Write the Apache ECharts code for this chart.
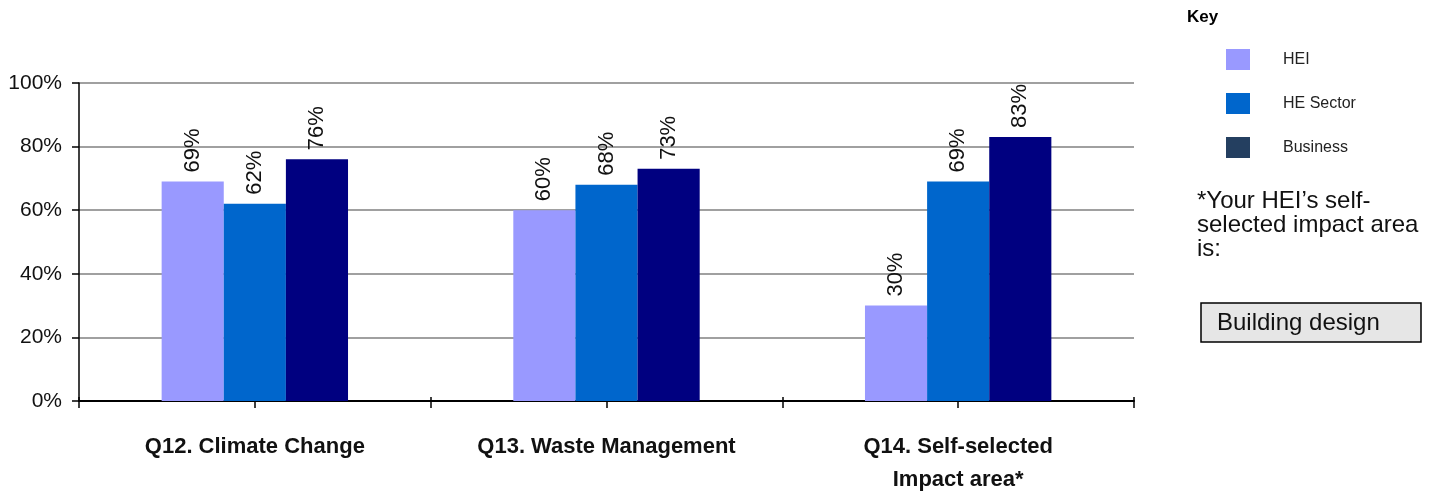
<!DOCTYPE html>
<html>
<head>
<meta charset="utf-8">
<script src="https://cdn.jsdelivr.net/npm/echarts@6/dist/echarts.min.js"></script>
<style>
html,body{margin:0;padding:0;background:#fff;}
#chart{width:1437px;height:496px;}
</style>
</head>
<body>
<div id="chart"></div>
<script>
const categories = ['Q12. Climate Change', 'Q13. Waste Management', 'Q14. Self-selected\nImpact area*'];
const seriesNames = ['HEI', 'HE Sector', 'Business'];
const heiValues = [69, 60, 30];
const sectorValues = [62, 68, 69];
const businessValues = [76, 73, 83];
const yTicks = [0, 20, 40, 60, 80, 100];
const halfTicks = ['', '', '', '', '', ''];
const noteLines = ['*Your HEI\u2019s self-', 'selected impact area', 'is:'];
const impactArea = 'Building design';

const FONT = 'Liberation Sans, Arial, sans-serif';
const colors = ['#9999FF', '#0066CC', '#000080'];
const legendColors = ['#9999FF', '#0066CC', '#243F60'];

const chart = echarts.init(document.getElementById('chart'));

const labelCfg = {
  show: true,
  position: 'top',
  distance: 9,
  rotate: 90,
  align: 'left',
  verticalAlign: 'middle',
  formatter: '{c}%',
  fontFamily: FONT,
  fontSize: 22,
  color: '#111'
};

const valuesList = [heiValues, sectorValues, businessValues];

chart.setOption({
  animation: false,
  backgroundColor: '#fff',
  textStyle: { fontFamily: FONT },
  grid: { left: 79, right: 303, top: 83, bottom: 90, containLabel: false },
  legend: {
    orient: 'vertical',
    left: 1226,
    top: 49,
    padding: 0,
    itemWidth: 24,
    itemHeight: 21,
    itemGap: 23,
    icon: 'rect',
    selectedMode: false,
    textStyle: { fontFamily: FONT, fontSize: 16, color: '#222', padding: [0, 0, 9, 28] },
    data: seriesNames.map((n, i) => ({ name: n, itemStyle: { color: legendColors[i] } }))
  },
  xAxis: [
    {
      type: 'category',
      data: categories,
      axisLine: { show: true, lineStyle: { color: '#000', width: 2 } },
      axisTick: { show: false },
      axisLabel: {
        fontFamily: FONT, fontSize: 22, fontWeight: 'bold', color: '#111',
        margin: 29, lineHeight: 33, interval: 0
      }
    },
    {
      type: 'category',
      data: halfTicks,
      position: 'bottom',
      axisLine: { show: false },
      axisTick: { show: true, length: 7, lineStyle: { color: '#000', width: 1.5 } },
      axisLabel: { show: false }
    },
    {
      type: 'category',
      data: halfTicks,
      position: 'bottom',
      axisLine: { show: false },
      axisTick: { show: true, inside: true, length: 4, lineStyle: { color: '#000', width: 1.5 } },
      axisLabel: { show: false }
    }
  ],
  yAxis: {
    type: 'value',
    min: yTicks[0],
    max: yTicks[yTicks.length - 1],
    interval: 20,
    axisLine: { show: true, lineStyle: { color: '#000', width: 1.5 } },
    axisTick: { show: true, length: 7, lineStyle: { color: '#000', width: 1.5 } },
    axisLabel: { formatter: '{value}%', fontFamily: FONT, fontSize: 21, color: '#111', margin: 17 },
    splitLine: { show: true, lineStyle: { color: '#a0a0a0', width: 2 } }
  },
  series: seriesNames.map((n, i) => ({
    name: n,
    type: 'bar',
    xAxisIndex: 0,
    data: valuesList[i],
    barGap: '0%',
    barCategoryGap: '47%',
    itemStyle: { color: colors[i] },
    label: labelCfg
  })),
  graphic: [
    {
      type: 'text', left: 1187, top: 9,
      style: { text: 'Key', font: 'bold 17px ' + FONT, fill: '#000' }
    },
    {
      type: 'text', left: 1197, top: 189,
      style: { text: noteLines.join('\n'), font: '24px ' + FONT, lineHeight: 24, fill: '#111' }
    },
    {
      type: 'rect',
      shape: { x: 1201, y: 303, width: 220, height: 39 },
      style: { fill: '#e6e6e6', stroke: '#000', lineWidth: 1.5 }
    },
    {
      type: 'text', x: 1217, y: 323,
      style: { text: impactArea, font: '24px ' + FONT, fill: '#111', textVerticalAlign: 'middle', verticalAlign: 'middle' }
    }
  ]
});
</script>
</body>
</html>
